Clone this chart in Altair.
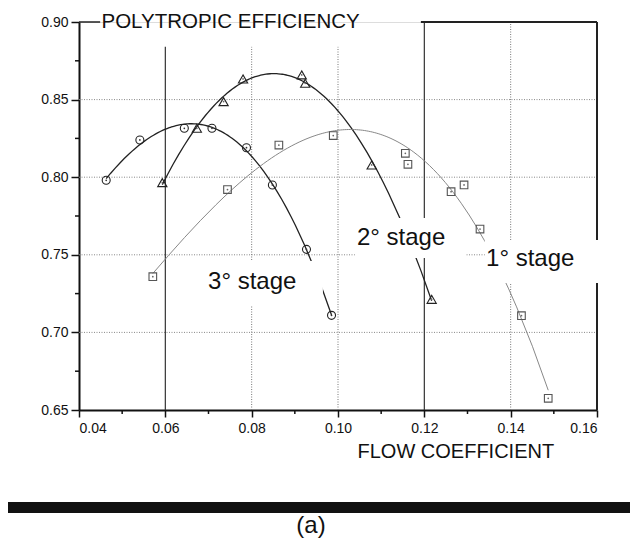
import altair as alt
import pandas as pd

# ---- data ----
circle_x = [0.0463, 0.0541, 0.0644, 0.0708, 0.0788, 0.0848, 0.0927, 0.0985]
circle_y = [0.798, 0.824, 0.8315, 0.8315, 0.819, 0.795, 0.7535, 0.711]

tri_x = [0.0593, 0.0673, 0.0735, 0.0780, 0.0916, 0.0924, 0.1078, 0.1217]
tri_y = [0.7965, 0.8315, 0.8487, 0.8633, 0.8659, 0.8605, 0.8079, 0.7213]

sq_x = [0.0571, 0.0744, 0.0863, 0.0989, 0.1156, 0.1162, 0.1262, 0.1292, 0.1329, 0.1425, 0.1487]
sq_y = [0.7359, 0.7920, 0.8207, 0.8268, 0.8154, 0.8083, 0.7907, 0.7950, 0.7666, 0.7108, 0.6575]

x_ticks = [0.04, 0.06, 0.08, 0.10, 0.12, 0.14, 0.16]
y_ticks = [0.65, 0.70, 0.75, 0.80, 0.85, 0.90]
x_minor = [0.05, 0.07, 0.09, 0.11, 0.13, 0.15]
y_minor = [0.675, 0.725, 0.775, 0.825, 0.875]

h_grid = [0.70, 0.75, 0.80, 0.85]
v_grid_dotted = [0.08, 0.10, 0.14]
v_grid_dotted_top = [0.884, 0.884, 0.90]
v_grid_solid = [0.06, 0.12]
v_grid_solid_top = [0.884, 0.90]

label_text = ["3° stage", "2° stage", "1° stage"]
label_x = [0.0699, 0.1044, 0.1343]
label_y = [0.7280, 0.7563, 0.7428]
box_x1 = [0.0669, 0.1039, 0.1340]
box_x2 = [0.0965, 0.1297, 0.1618]
box_y1 = [0.7170, 0.7479, 0.7318]
box_y2 = [0.7460, 0.7737, 0.7595]

FONT = "Liberation Sans"
xs = alt.Scale(domain=[0.04, 0.16], nice=False, zero=False)
ys = alt.Scale(domain=[0.65, 0.90], nice=False, zero=False)

circles = pd.DataFrame({"x": circle_x, "y": circle_y})
tris = pd.DataFrame({"x": tri_x, "y": tri_y})
squares = pd.DataFrame({"x": sq_x, "y": sq_y})


def X(f="x"):
    return alt.X(f"{f}:Q", scale=xs)


def Y(f="y"):
    return alt.Y(f"{f}:Q", scale=ys)


base = alt.Chart(circles).mark_point(opacity=0).encode(
    x=alt.X("x:Q", scale=xs, axis=alt.Axis(
        values=x_ticks, format=".2f", grid=False, tickSize=7, tickWidth=1.5,
        tickColor="#111", domainColor="#111", domainWidth=2,
        labelFont=FONT, labelFontSize=14, labelColor="#111", labelPadding=4,
        title="FLOW COEFFICIENT", titleFont=FONT, titleFontSize=20,
        titleFontWeight="normal", titleColor="#111", titleX=278, titleY=47,
        titleAlign="left", titleBaseline="alphabetic")),
    y=alt.Y("y:Q", scale=ys, axis=alt.Axis(
        values=y_ticks, format=".2f", grid=False, tickSize=8, tickWidth=1.5,
        tickColor="#111", domainColor="#111", domainWidth=2,
        labelFont=FONT, labelFontSize=14, labelColor="#111", labelPadding=3,
        title="POLYTROPIC EFFICIENCY", titleFont=FONT, titleFontSize=20.5,
        titleFontWeight="normal", titleColor="#111", titleAngle=0,
        titleX=22, titleY=5, titleAlign="left", titleBaseline="alphabetic")),
)

hgrid = alt.Chart(pd.DataFrame({"y": h_grid})).mark_rule(
    color="#888", strokeWidth=1, strokeDash=[1, 1.5]
).encode(y=Y(), x=alt.value(0), x2=alt.value(518))

vdot = alt.Chart(pd.DataFrame({"x": v_grid_dotted, "top": v_grid_dotted_top, "bot": [0.65] * 3})).mark_rule(
    color="#777", strokeWidth=1, strokeDash=[1, 1.5]
).encode(x=X(), y=Y("bot"), y2="top:Q")

vsolid = alt.Chart(pd.DataFrame({"x": v_grid_solid, "top": v_grid_solid_top, "bot": [0.65] * 2})).mark_rule(
    color="#333", strokeWidth=1.2
).encode(x=X(), y=Y("bot"), y2="top:Q")

# frame pieces: right border, right part of the top border, line from the 0.90 tick to the title
right_border = alt.Chart(pd.DataFrame({"x": [0.16], "lo": [0.65], "hi": [0.90]})).mark_rule(
    color="#222", strokeWidth=2).encode(x=X(), y=Y("lo"), y2="hi:Q")
top_border = alt.Chart(pd.DataFrame({"y": [0.90], "lo": [0.1192], "hi": [0.16]})).mark_rule(
    color="#222", strokeWidth=2).encode(y=Y(), x=X("lo"), x2="hi:Q")
title_line = alt.Chart(pd.DataFrame({"y": [0.90], "lo": [0.04], "hi": [0.0449]})).mark_rule(
    color="#222", strokeWidth=1.5).encode(y=Y(), x=X("lo"), x2="hi:Q")

xminor = alt.Chart(pd.DataFrame({"x": x_minor})).mark_rule(color="#111", strokeWidth=1.5).encode(
    x=X(), y=alt.value(388), y2=alt.value(392))
yminor = alt.Chart(pd.DataFrame({"y": y_minor})).mark_rule(color="#111", strokeWidth=1.5).encode(
    y=Y(), x=alt.value(-4), x2=alt.value(0))


def fit(df, lo, hi, color, width):
    return alt.Chart(df).transform_regression(
        "x", "y", method="poly", order=3, extent=[lo, hi]
    ).mark_line(color=color, strokeWidth=width).encode(x=X(), y=Y())


c_fit = fit(circles, circle_x[0], circle_x[-1], "#222", 1.3)
t_fit = fit(tris, tri_x[0], tri_x[-1], "#222", 1.3)
s_fit = fit(squares, sq_x[0], sq_x[-1], "#888", 1.0)

# white boxes behind the stage labels (they interrupt curves, grid and frame)
boxes = alt.Chart(pd.DataFrame({"x": box_x1, "x2": box_x2, "y": box_y1, "y2": box_y2})).mark_rect(
    fill="white", strokeWidth=0, opacity=1
).encode(x=X(), x2="x2:Q", y=Y(), y2="y2:Q")

labels = alt.Chart(pd.DataFrame({"x": label_x, "y": label_y, "t": label_text})).mark_text(
    font=FONT, fontSize=24, align="left", baseline="alphabetic", color="#111"
).encode(x=X(), y=Y(), text="t:N")

c_pts = alt.Chart(circles).mark_point(shape="circle", filled=False, size=64, color="#222", strokeWidth=1.1, opacity=1).encode(x=X(), y=Y())
t_pts = alt.Chart(tris).mark_point(shape="triangle-up", filled=False, size=85, color="#222", strokeWidth=1.1, opacity=1).encode(x=X(), y=Y())
s_pts = alt.Chart(squares).mark_point(shape="square", filled=False, size=58, color="#555", strokeWidth=1.1, opacity=1).encode(x=X(), y=Y())
dots = alt.layer(
    alt.Chart(circles).mark_point(shape="circle", filled=True, size=3, color="#333", opacity=1).encode(x=X(), y=Y()),
    alt.Chart(squares).mark_point(shape="circle", filled=True, size=3, color="#666", opacity=1).encode(x=X(), y=Y()),
    alt.Chart(tris).mark_point(shape="circle", filled=True, size=3, color="#666", opacity=1).encode(x=X(), y=Y()),
)

one = pd.DataFrame({"a": [0]})
bar = alt.Chart(one).mark_rect(color="#111", opacity=1).encode(
    x=alt.value(-71), x2=alt.value(551), y=alt.value(480), y2=alt.value(491))
panel = alt.Chart(pd.DataFrame({"t": ["(a)"]})).mark_text(
    font=FONT, fontSize=24, align="center", baseline="alphabetic", color="#111"
).encode(text="t:N", x=alt.value(232), y=alt.value(511))

chart = alt.layer(
    base, hgrid, vdot, vsolid, right_border, top_border, title_line, xminor, yminor,
    c_fit, t_fit, s_fit, boxes, labels, c_pts, t_pts, s_pts, dots, bar, panel
).properties(
    width=518, height=388, autosize="none",
    padding={"left": 71, "top": 14, "right": 33, "bottom": 130}
).configure_view(stroke=None).configure(background="white")

chart.save("out.html", embed_options={"renderer": "svg", "actions": False})
